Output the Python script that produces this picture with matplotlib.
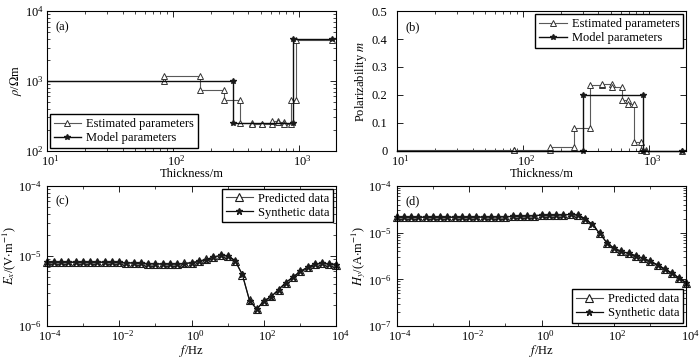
import numpy as np
import matplotlib
matplotlib.use("Agg")
import matplotlib.pyplot as plt
from matplotlib.ticker import NullFormatter, FixedLocator
from matplotlib.transforms import ScaledTranslation

plt.rcParams['font.family'] = ['Liberation Serif', 'DejaVu Serif']
plt.rcParams['mathtext.fontset'] = 'stix'
plt.rcParams['font.size'] = 9
plt.rcParams['axes.linewidth'] = 0.8

# ---- layered model (depth tops in m, last value = half-space) ----
est_tops = [10, 85, 165, 255, 345, 425, 515, 610, 685, 770, 865, 955]
est_rho = [1000, 1178, 743, 535, 250, 243, 243, 265, 262, 240, 535, 3900]
est_m = [0.002, 0.004, 0.012, 0.080, 0.235, 0.240, 0.227, 0.181, 0.167, 0.030, 0.003, 0.0]
mod_tops = [10, 300, 900]
mod_rho = [1000, 250, 4000]
mod_m = [0.0, 0.2, 0.0]
depth_end = 1850

# ---- EM responses, 41 frequencies ----
freq = np.logspace(-4, 4, 41)
ex_syn = [8.15e-6, 8.15e-6, 8.15e-6, 8.15e-6, 8.15e-6, 8.15e-6, 8.15e-6, 8.15e-6, 8.15e-6,
          8.12e-6, 8.08e-6, 8.00e-6, 7.92e-6, 7.85e-6, 7.78e-6, 7.72e-6, 7.68e-6, 7.67e-6,
          7.70e-6, 7.80e-6, 8.00e-6, 8.38e-6, 8.90e-6, 9.60e-6, 1.02e-5, 1.01e-5, 8.60e-6,
          5.45e-6, 2.30e-6, 1.74e-6, 2.29e-6, 2.63e-6, 3.31e-6, 4.17e-6, 5.00e-6, 6.00e-6,
          6.90e-6, 7.64e-6, 7.90e-6, 7.70e-6, 7.46e-6]
ex_pre = [8.16e-6, 8.16e-6, 8.15e-6, 8.15e-6, 8.15e-6, 8.15e-6, 8.14e-6, 8.14e-6, 8.14e-6,
          8.11e-6, 8.07e-6, 8.00e-6, 7.92e-6, 7.84e-6, 7.77e-6, 7.71e-6, 7.67e-6, 7.66e-6,
          7.70e-6, 7.81e-6, 8.01e-6, 8.39e-6, 8.92e-6, 9.62e-6, 1.02e-5, 1.01e-5, 8.55e-6,
          5.40e-6, 2.32e-6, 1.75e-6, 2.28e-6, 2.64e-6, 3.30e-6, 4.15e-6, 5.01e-6, 6.02e-6,
          6.91e-6, 7.63e-6, 7.88e-6, 7.71e-6, 7.47e-6]
hy_syn = [2.14e-5, 2.14e-5, 2.14e-5, 2.14e-5, 2.14e-5, 2.14e-5, 2.14e-5, 2.14e-5, 2.14e-5,
          2.14e-5, 2.14e-5, 2.15e-5, 2.16e-5, 2.17e-5, 2.18e-5, 2.20e-5, 2.22e-5, 2.25e-5,
          2.28e-5, 2.32e-5, 2.36e-5, 2.37e-5, 2.38e-5, 2.42e-5, 2.45e-5, 2.40e-5, 2.00e-5,
          1.50e-5, 9.70e-6, 6.10e-6, 4.60e-6, 3.98e-6, 3.60e-6, 3.20e-6, 2.82e-6, 2.44e-6,
          2.04e-6, 1.67e-6, 1.36e-6, 1.06e-6, 8.40e-7]
hy_pre = [2.14e-5, 2.14e-5, 2.14e-5, 2.14e-5, 2.14e-5, 2.14e-5, 2.14e-5, 2.14e-5, 2.14e-5,
          2.14e-5, 2.14e-5, 2.15e-5, 2.16e-5, 2.17e-5, 2.18e-5, 2.20e-5, 2.22e-5, 2.25e-5,
          2.28e-5, 2.32e-5, 2.36e-5, 2.37e-5, 2.39e-5, 2.42e-5, 2.45e-5, 2.39e-5, 1.98e-5,
          1.49e-5, 9.75e-6, 6.12e-6, 4.62e-6, 3.97e-6, 3.61e-6, 3.21e-6, 2.81e-6, 2.45e-6,
          2.05e-6, 1.66e-6, 1.35e-6, 1.06e-6, 8.45e-7]


def step_profile(tops, vals, end):
    # vertices of a layered model drawn as a staircase
    edges = list(tops[1:]) + [end]
    xs, ys = [], []
    for t, b, v in zip(tops, edges, vals):
        xs += [t, b]
        ys += [v, v]
    return xs, ys


def style_axes(ax, label, ypad=2):
    ax.tick_params(which='both', direction='in', top=True, right=True)
    ax.tick_params(axis='x', pad=2)
    ax.tick_params(axis='y', pad=ypad)
    ax.tick_params(which='major', length=4, width=0.6)
    ax.tick_params(which='minor', length=2, width=0.5)
    ax.text(0.03, 0.93, label, transform=ax.transAxes, va='top', ha='left')


est_kw = dict(color='0.35', lw=0.8, marker='^', mfc='white', mec='0.2', ms=5, mew=0.7)
mod_kw = dict(color='0.05', lw=1.0, marker='*', mfc='0.1', mec='0.1', ms=4)
leg_kw = dict(fancybox=False, edgecolor='k', framealpha=1, borderpad=0.3,
              labelspacing=0.15, handlelength=2.2, handletextpad=0.4, borderaxespad=0.25)

fig = plt.figure(figsize=(7.0, 3.59), dpi=100)
ax_a = fig.add_axes([0.0667, 0.580, 0.414, 0.389])
ax_b = fig.add_axes([0.5667, 0.580, 0.414, 0.389])
ax_c = fig.add_axes([0.0667, 0.092, 0.414, 0.390])
ax_d = fig.add_axes([0.5667, 0.092, 0.414, 0.390])

# (a) resistivity
xs, ys = step_profile(est_tops, est_rho, depth_end)
ax_a.plot(xs, ys, markevery=slice(1, None), label='Estimated parameters', **est_kw)
xs, ys = step_profile(mod_tops, mod_rho, depth_end)
ax_a.plot(xs, ys, markevery=slice(1, None), label='Model parameters', **mod_kw)
ax_a.set_xscale('log')
ax_a.set_yscale('log')
ax_a.set_xlim(10, 2000)
ax_a.set_ylim(100, 10000)
ax_a.set_xlabel('Thickness/m', labelpad=0)
ax_a.set_ylabel(r'$\rho$/$\Omega$m', labelpad=1)
ax_a.legend(loc='lower left', **leg_kw)
style_axes(ax_a, '(a)')

# (b) polarizability
xs, ys = step_profile(est_tops, est_m, depth_end)
ax_b.plot(xs, ys, markevery=slice(1, None), label='Estimated parameters', clip_on=False, **est_kw)
xs, ys = step_profile(mod_tops, mod_m, depth_end)
ax_b.plot(xs, ys, markevery=slice(1, None), label='Model parameters', clip_on=False, **mod_kw)
ax_b.set_xscale('log')
ax_b.set_xlim(10, 2000)
ax_b.set_ylim(0, 0.5)
ax_b.set_yticks([0, 0.1, 0.2, 0.3, 0.4, 0.5])
ax_b.set_yticklabels(['0', '0.1', '0.2', '0.3', '0.4', '0.5'])
ax_b.set_xlabel('Thickness/m', labelpad=0)
ax_b.set_ylabel(r'Polarizability $m$', labelpad=2)
ax_b.legend(loc='upper right', **leg_kw)
style_axes(ax_b, '(b)', ypad=6.5)

# (c) Ex and (d) Hy
for ax, pre, syn, ylim, ylab, lab, loc in [
        (ax_c, ex_pre, ex_syn, (1e-6, 1e-4), r'$E_x$/(V$\cdot$m$^{-1}$)', '(c)', 'upper right'),
        (ax_d, hy_pre, hy_syn, (1e-7, 1e-4), r'$H_y$/(A$\cdot$m$^{-1}$)', '(d)', 'lower right')]:
    ax.plot(freq, pre, color='0.3', lw=0.8, marker='^', mfc='white', mec='0.1', ms=5.5,
            mew=0.8, clip_on=False, label='Predicted data')
    ax.plot(freq, syn, color='0.05', lw=0.9, marker='*', mfc='0.1', mec='0.1', ms=5,
            clip_on=False, label='Synthetic data')
    ax.set_xscale('log')
    ax.set_yscale('log')
    ax.set_xlim(1e-4, 1e4)
    ax.set_ylim(*ylim)
    ax.xaxis.set_major_locator(FixedLocator([1e-4, 1e-2, 1e0, 1e2, 1e4]))
    ax.xaxis.set_minor_locator(FixedLocator([1e-3, 1e-1, 1e1, 1e3]))
    ax.xaxis.set_minor_formatter(NullFormatter())
    ax.set_xlabel(r'$f$/Hz', labelpad=0)
    ax.set_ylabel(ylab, labelpad=0)
    ax.legend(loc=loc, **leg_kw)
    style_axes(ax, lab, ypad=3.5)

# base "10" sits on the tick, exponent sticks out to the right (MATLAB look)
fig.canvas.draw()
shift = ScaledTranslation(0.035, 0, fig.dpi_scale_trans)
for ax in (ax_a, ax_b, ax_c, ax_d):
    for lbl in ax.xaxis.get_majorticklabels():
        lbl.set_transform(lbl.get_transform() + shift)

fig.savefig('out.png', dpi=100)
